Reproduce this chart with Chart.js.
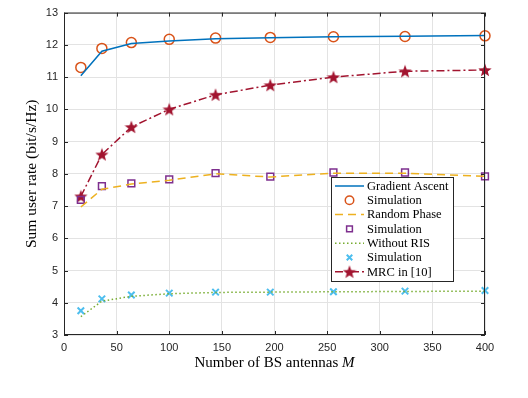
<!DOCTYPE html>
<html>
<head>
<meta charset="utf-8">
<script src="https://cdn.jsdelivr.net/npm/chart.js@4/dist/chart.umd.min.js"></script>
<style>
  html, body { margin: 0; padding: 0; background: #fff; }
  #wrap { width: 528px; height: 398px; position: relative; }
</style>
</head>
<body>
<div id="wrap"><canvas id="chart"></canvas></div>
<script>
// number of BS antennas M
const antennas = [16, 36, 64, 100, 144, 196, 256, 324, 400]
// sum user rate (bit/s/Hz)
const gradientAscent = [11.04, 11.8, 12.04, 12.12, 12.19, 12.22, 12.25, 12.27, 12.29]
const gradientSim = [11.3, 11.89, 12.07, 12.17, 12.21, 12.23, 12.25, 12.26, 12.28]
const randomPhase = [6.97, 7.52, 7.68, 7.8, 8.0, 7.9, 8.02, 8.02, 7.92]
const randomSim = [7.19, 7.62, 7.7, 7.83, 8.02, 7.91, 8.04, 8.04, 7.92]
const withoutRis = [3.57, 4.05, 4.2, 4.28, 4.32, 4.33, 4.34, 4.35, 4.36]
const withoutSim = [3.75, 4.12, 4.24, 4.3, 4.33, 4.33, 4.34, 4.36, 4.38]
const mrc = [7.3, 8.6, 9.45, 10.0, 10.45, 10.75, 11.0, 11.18, 11.22]
const xTicks = [0, 50, 100, 150, 200, 250, 300, 350, 400]
const yTicks = [3, 4, 5, 6, 7, 8, 9, 10, 11, 12, 13]
const legendLabels = ['Gradient Ascent', 'Simulation', 'Random Phase', 'Simulation', 'Without RIS', 'Simulation', 'MRC in [10]']

const blue = '#0072BD', orange = '#D95319', yellow = '#EDB120', purple = '#7E2F8E'
const green = '#77AC30', cyan = '#4DBEEE', red = '#A2142F'
const serif = '"Liberation Serif", "DejaVu Serif", serif'

// filled pentagram marker like matlab 'p'
function makeStar(size, color) {
  const c = document.createElement('canvas')
  c.width = size; c.height = size
  const g = c.getContext('2d')
  const R = size / 2, r = R * 0.42
  g.beginPath()
  for (let i = 0; i < 10; i++) {
    const rad = i % 2 === 0 ? R : r
    const a = -Math.PI / 2 + i * Math.PI / 5
    g.lineTo(R + rad * Math.cos(a), R + 0.6 + rad * Math.sin(a))
  }
  g.closePath()
  g.fillStyle = color
  g.fill()
  return c
}
const star = makeStar(14, red)

const pts = (ys) => antennas.map((x, i) => ({ x, y: ys[i] }))

const lineSet = (label, ys, color, dash) => ({
  label, data: pts(ys), borderColor: color, backgroundColor: color,
  borderWidth: 1.5, borderDash: dash, pointRadius: 0, showLine: true, fill: false, clip: false
})
const markSet = (label, ys, color, style, r, w) => ({
  label, data: pts(ys), borderColor: color, backgroundColor: 'rgba(0,0,0,0)',
  pointStyle: style, pointRadius: r, pointBorderWidth: w, showLine: false, clip: false
})

const datasets = [
  lineSet('Gradient Ascent', gradientAscent, blue, []),
  markSet('Simulation', gradientSim, orange, 'circle', 5, 1.5),
  lineSet('Random Phase', randomPhase, yellow, [8, 5]),
  markSet('Simulation', randomSim, purple, 'rect', 4.8, 1.5),
  lineSet('Without RIS', withoutRis, green, [1.5, 2.5]),
  markSet('Simulation', withoutSim, cyan, 'crossRot', 4.6, 2),
  Object.assign(lineSet('MRC in [10]', mrc, red, [8, 3, 2, 3]), { pointStyle: star, pointRadius: 7 })
]

// box, inward ticks, axis titles and legend
const decor = {
  id: 'decor',
  afterDraw(chart) {
    const ctx = chart.ctx
    const a = chart.chartArea
    const xs = chart.scales.x, ys = chart.scales.y
    ctx.save()
    ctx.strokeStyle = '#262626'
    ctx.lineWidth = 1
    ctx.strokeRect(a.left + 0.5, a.top + 0.5, a.right - a.left - 1, a.bottom - a.top - 1)
    ctx.beginPath()
    xTicks.forEach(v => {
      const px = Math.round(xs.getPixelForValue(v)) + 0.5
      ctx.moveTo(px, a.bottom); ctx.lineTo(px, a.bottom - 4)
      ctx.moveTo(px, a.top); ctx.lineTo(px, a.top + 4)
    })
    yTicks.forEach(v => {
      const py = Math.round(ys.getPixelForValue(v)) + 0.5
      ctx.moveTo(a.left, py); ctx.lineTo(a.left + 4, py)
      ctx.moveTo(a.right, py); ctx.lineTo(a.right - 4, py)
    })
    ctx.stroke()

    // axis titles
    ctx.fillStyle = '#000'
    ctx.textBaseline = 'middle'
    const t1 = 'Number of BS antennas ', t2 = 'M'
    ctx.font = '15px ' + serif
    const w1 = ctx.measureText(t1).width
    ctx.font = 'italic 15px ' + serif
    const w2 = ctx.measureText(t2).width
    const x0 = (a.left + a.right) / 2 - (w1 + w2) / 2
    ctx.textAlign = 'left'
    ctx.font = '15px ' + serif
    ctx.fillText(t1, x0, 363)
    ctx.font = 'italic 15px ' + serif
    ctx.fillText(t2, x0 + w1, 363)

    ctx.save()
    ctx.translate(32, (a.top + a.bottom) / 2)
    ctx.rotate(-Math.PI / 2)
    ctx.textAlign = 'center'
    ctx.font = '15.5px ' + serif
    ctx.fillText('Sum user rate (bit/s/Hz)', 0, 0)
    ctx.restore()

    // legend
    const lx = 331, ly = 177, lw = 122, lh = 104, step = 14.3
    ctx.fillStyle = '#fff'
    ctx.fillRect(lx, ly, lw, lh)
    ctx.strokeStyle = '#262626'
    ctx.lineWidth = 1
    ctx.strokeRect(lx + 0.5, ly + 0.5, lw, lh)
    chart.data.datasets.forEach((ds, i) => {
      const cy = ly + 9 + i * step
      if (ds.showLine) {
        ctx.save()
        ctx.strokeStyle = ds.borderColor
        ctx.lineWidth = ds.borderWidth
        ctx.setLineDash(ds.borderDash || [])
        ctx.beginPath(); ctx.moveTo(335, cy); ctx.lineTo(364, cy); ctx.stroke()
        ctx.restore()
      }
      if (ds.pointRadius > 0) {
        ctx.save()
        ctx.strokeStyle = ds.borderColor
        ctx.fillStyle = 'rgba(0,0,0,0)'
        ctx.lineWidth = ds.pointBorderWidth || 1.5
        Chart.helpers.drawPoint(ctx, {
          pointStyle: ds.pointStyle, radius: ds.pointRadius * 0.85, borderWidth: ds.pointBorderWidth || 1.5, rotation: 0
        }, 349.5, cy)
        ctx.restore()
      }
      ctx.fillStyle = '#000'
      ctx.font = '12.5px ' + serif
      ctx.textAlign = 'left'
      ctx.textBaseline = 'middle'
      ctx.fillText(legendLabels[i], 367, cy + 0.5)
    })
    ctx.restore()
  }
}

new Chart(document.getElementById('chart'), {
  type: 'scatter',
  data: { datasets },
  options: {
    responsive: true,
    maintainAspectRatio: false,
    animation: false,
    layout: { padding: { left: 0, right: 43, top: 3, bottom: 0 } },
    plugins: { legend: { display: false }, tooltip: { enabled: false } },
    scales: {
      x: {
        type: 'linear', min: 0, max: 400,
        afterBuildTicks: (s) => { s.ticks = xTicks.map(v => ({ value: v })) },
        afterFit: (s) => { s.height = 63 },
        grid: { color: '#e3e3e3', drawTicks: false },
        border: { display: false },
        ticks: { padding: 6, color: '#262626', font: { family: '"Liberation Sans", Arial, sans-serif', size: 11 } }
      },
      y: {
        min: 3, max: 13,
        afterBuildTicks: (s) => { s.ticks = yTicks.map(v => ({ value: v })) },
        afterFit: (s) => { s.width = 64 },
        grid: { color: '#e3e3e3', drawTicks: false },
        border: { display: false },
        ticks: { padding: 6, color: '#262626', font: { family: '"Liberation Sans", Arial, sans-serif', size: 11 } }
      }
    }
  },
  plugins: [decor]
})
</script>
</body>
</html>
